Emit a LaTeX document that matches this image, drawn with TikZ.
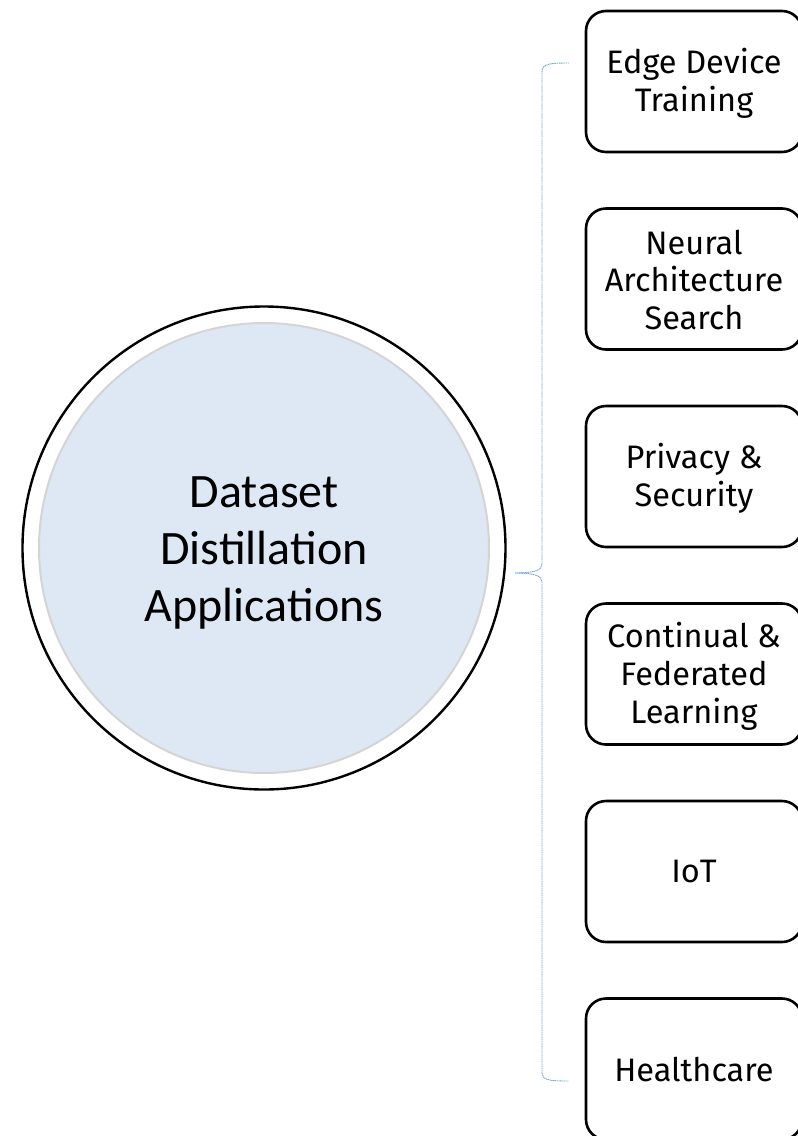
\documentclass[tikz,border=0pt]{standalone}
\usepackage{fontspec}
\setmainfont{Fira Sans}
\newfontfamily\hubfont{Carlito}
\definecolor{hubfill}{HTML}{DEE8F4}
\definecolor{hubring}{HTML}{D4D4D4}
\definecolor{bracecol}{HTML}{6FA3DC}
\begin{document}
\begin{tikzpicture}[x=1pt,y=-1pt,
  appbox/.style={draw=black, line width=2.6pt, rounded corners=20pt,
    minimum width=216pt, minimum height=141pt, inner sep=0pt},
  apptext/.style={align=center, inner sep=0pt,
    font=\fontsize{32.5}{38}\selectfont},
  hubtext/.style={align=center, font=\hubfont\fontsize{48}{57}\selectfont},
  bracepath/.style={draw=bracecol, line width=0.9pt, dash pattern=on 1.2pt off 0.6pt}]
\useasboundingbox (0,0) rectangle (798,1136);
\clip (0,0) rectangle (798,1136);
% central hub
\node[circle, draw=black, line width=2.4pt, minimum size=483pt] (outer) at (264,548) {};
\node[circle, draw=hubring, fill=hubfill, line width=2pt, minimum size=450pt] (inner) at (264,548) {};
\node[hubtext] (hub) at (264,553) {Dataset\\Distillation\\Applications};
% application boxes
\node[appbox] (b1) at (694,81.5) {};
\node[appbox] (b2) at (694,279) {};
\node[appbox] (b3) at (694,476.5) {};
\node[appbox] (b4) at (694,674) {};
\node[appbox] (b5) at (694,871.5) {};
\node[appbox] (b6) at (694,1069) {};
\node[apptext] (t1) at ([yshift=-2pt]b1.center) {Edge Device\\Training};
\node[apptext] (t2) at ([yshift=-1pt]b2.center) {Neural\\Architecture\\Search};
\node[apptext] (t3) at ([yshift=-2pt]b3.center) {Privacy \&\\Security};
\node[apptext] (t4) at ([yshift=-2.5pt]b4.center) {Continual \&\\Federated\\Learning};
\node[apptext] (t5) at (b5.center) {IoT};
\node[apptext] (t6) at (b6.center) {Healthcare};
% brace joining the hub to the boxes
\coordinate (tip) at (515,573);
\coordinate (top) at (569,63);
\coordinate (bot) at (569,1081);
\draw[bracepath] (top) .. controls (548,63) and (542,64) .. (542,72)
  -- (542,564) .. controls (542,570) and (535,573) .. (tip);
\draw[bracepath] (tip) .. controls (535,573) and (542,576) .. (542,582)
  -- (542,1072) .. controls (542,1080) and (548,1081) .. (bot);
\end{tikzpicture}
\end{document}
